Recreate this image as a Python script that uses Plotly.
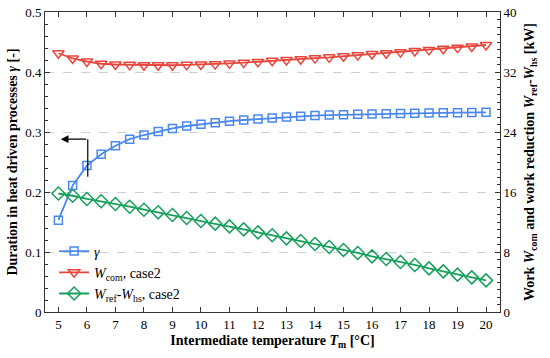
import plotly.graph_objects as go

T_m = [5, 5.5, 6, 6.5, 7, 7.5, 8, 8.5, 9, 9.5, 10, 10.5, 11, 11.5, 12, 12.5,
       13, 13.5, 14, 14.5, 15, 15.5, 16, 16.5, 17, 17.5, 18, 18.5, 19, 19.5, 20]

gamma = [0.153, 0.211, 0.244, 0.263, 0.277, 0.288, 0.295, 0.301, 0.306, 0.310,
         0.313, 0.3155, 0.318, 0.320, 0.3217, 0.3233, 0.3250, 0.3262, 0.3274, 0.3282,
         0.3288, 0.3294, 0.3300, 0.3304, 0.3308, 0.3312, 0.3316, 0.3319, 0.3322, 0.3325, 0.3328]

W_com = [34.5, 33.8, 33.4, 33.1, 33.0, 32.95, 32.9, 32.9, 32.9, 32.95,
         33.0, 33.05, 33.15, 33.25, 33.35, 33.5, 33.6, 33.7, 33.85, 33.95,
         34.1, 34.25, 34.4, 34.5, 34.65, 34.8, 34.95, 35.1, 35.25, 35.4, 35.6]

W_red = [15.8, 15.5, 15.07, 14.76, 14.4, 14.04, 13.64, 13.29, 12.93, 12.53,
         12.13, 11.78, 11.42, 11.02, 10.62, 10.24, 9.82, 9.47, 9.07, 8.67,
         8.27, 7.87, 7.42, 7.07, 6.67, 6.27, 5.82, 5.42, 4.98, 4.62, 4.22]

x_ticks = list(range(5, 21))
y_left_ticks = [0, 0.1, 0.2, 0.3, 0.4, 0.5]
y_right_ticks = [0, 8, 16, 24, 32, 40]

BLUE = "#4a88ee"
RED = "#e8463c"
GREEN = "#16a05a"
FONT = "Liberation Serif"

fig = go.Figure()
fig.add_trace(go.Scatter(
    x=T_m, y=gamma, name="<i>γ</i>", mode="lines+markers",
    line=dict(color=BLUE, width=1.8),
    marker=dict(symbol="square-open", size=8, color=BLUE, line=dict(width=1.5)),
))
fig.add_trace(go.Scatter(
    x=T_m, y=W_com, name="<i>W</i><sub>com</sub>, case2", mode="lines+markers",
    yaxis="y2",
    line=dict(color=RED, width=1.8),
    marker=dict(symbol="triangle-down-open", size=10, color=RED, line=dict(width=1.5)),
))
fig.add_trace(go.Scatter(
    x=T_m, y=W_red, name="<i>W</i><sub>ref</sub>-<i>W</i><sub>hs</sub>, case2",
    mode="lines+markers", yaxis="y2",
    line=dict(color=GREEN, width=1.8),
    marker=dict(symbol="diamond-open", size=10, color=GREEN, line=dict(width=1.5)),
))

# arrow pointing to left axis
fig.add_shape(type="line", x0=6.03, x1=6.03, y0=0.2255, y1=0.288,
              xref="x", yref="y", line=dict(color="black", width=1.2))
fig.add_annotation(x=5.08, y=0.288, ax=6.03, ay=0.288, xref="x", yref="y",
                   axref="x", ayref="y", text="", showarrow=True,
                   arrowhead=2, arrowsize=1.3, arrowwidth=1.2, arrowcolor="black")

axis_common = dict(showline=True, linecolor="#333333", linewidth=1,
                   ticks="inside", ticklen=5, tickcolor="#333333",
                   tickfont=dict(family=FONT, size=13, color="black"),
                   zeroline=False, automargin=False)

fig.update_layout(
    width=550, height=358,
    margin=dict(l=45, r=50, t=12, b=46, autoexpand=False),
    paper_bgcolor="white", plot_bgcolor="white",
    font=dict(family=FONT, size=13, color="black"),
    showlegend=True,
    legend=dict(x=0.02, y=0.255, xanchor="left", yanchor="top",
                bgcolor="rgba(0,0,0,0)", font=dict(family=FONT, size=14),
                tracegroupgap=0, itemwidth=30),
    xaxis=dict(range=[4.53, 20.49], tickvals=x_ticks, ticktext=[str(v) for v in x_ticks],
               mirror="ticks", showgrid=False,
               title=dict(text="<b>Intermediate temperature <i>T</i><sub>m</sub> [°C]</b>",
                          font=dict(family=FONT, size=14), standoff=4),
               **axis_common),
    yaxis=dict(range=[0, 0.5], tickvals=y_left_ticks, ticktext=["0", "0.1", "0.2", "0.3", "0.4", "0.5"],
               showgrid=True, gridcolor="#d0d0d0", griddash="dash", gridwidth=1,
               minor=dict(dtick=0.02, ticks="inside", ticklen=3, tickcolor="#333333", showgrid=False),
               title=dict(text="<b>Duration in heat driven processes <i>γ</i> [-]</b>",
                          font=dict(family=FONT, size=14), standoff=4),
               **axis_common),
    yaxis2=dict(range=[0, 40], tickvals=y_right_ticks, ticktext=[str(v) for v in y_right_ticks],
                overlaying="y", side="right", showgrid=False,
                minor=dict(dtick=1, ticks="inside", ticklen=3, tickcolor="#333333", showgrid=False),
                title=dict(text="<b>Work <i>W</i><sub>com</sub> and work reduction <i>W</i><sub>ref</sub>-<i>W</i><sub>hs</sub> [kW]</b>",
                           font=dict(family=FONT, size=14), standoff=8),
                **axis_common),
)

fig.write_html("out.html", config={"displayModeBar": False},
               post_script="document.body.style.margin='0';")
